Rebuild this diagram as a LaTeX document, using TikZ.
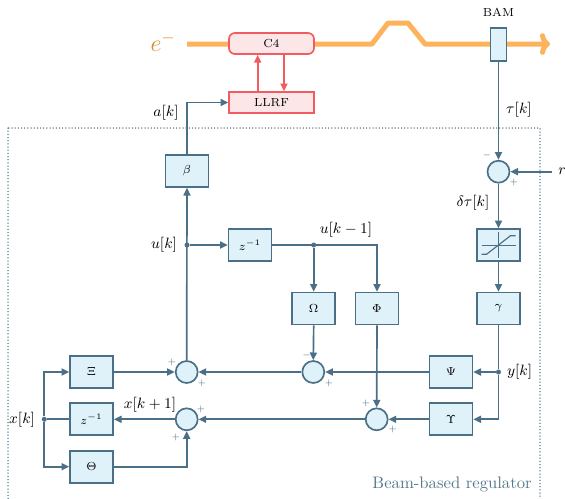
\documentclass[tikz,border=0pt]{standalone}
\usetikzlibrary{arrows.meta,calc}
\definecolor{sigc}{HTML}{4A6F86}
\definecolor{boxfill}{HTML}{DFF1F9}
\definecolor{rfred}{HTML}{F25B60}
\definecolor{rffill}{HTML}{FDE6E8}
\definecolor{beamc}{HTML}{FDB25C}
\definecolor{elec}{HTML}{D9862C}
\definecolor{regtext}{HTML}{55798C}
\begin{document}
\begin{tikzpicture}[x=0.6pt,y=-0.6pt,
  blk/.style={draw=sigc, fill=boxfill, line width=1pt, minimum width=25.8pt,
    minimum height=19.2pt, inner sep=0pt, font=\scriptsize},
  sumnode/.style={circle, draw=sigc, fill=boxfill, line width=1pt,
    minimum size=13.2pt, inner sep=0pt},
  wire/.style={draw=sigc, line width=1pt},
  arr/.style={wire, -{Triangle[length=4.6pt,width=4.2pt]}},
  rfarr/.style={draw=rfred, line width=1pt, -{Triangle[length=4.6pt,width=4.2pt]}},
  rfblk/.style={draw=rfred, fill=rffill, line width=1pt, minimum width=51pt,
    minimum height=12.6pt, inner sep=0pt, font=\scriptsize},
  junction/.style={circle, fill=sigc, inner sep=0pt, minimum size=3pt},
  sgn/.style={font=\tiny, text=sigc, inner sep=0pt},
  lbl/.style={font=\small, inner sep=1pt},
]
\useasboundingbox (0,0) rectangle (565,498);

% regulator frame
\draw[sigc, line width=0.9pt, line cap=round, dash pattern=on 0pt off 1.9pt]
  (8,128) rectangle (540,510);
\node[text=regtext, anchor=east, inner sep=0pt] (regname) at (532,484) {Beam-based regulator};

% electron beam line with the chicane bump
\coordinate (beamin) at (187,44);
\coordinate (beamout) at (550,44);
\draw[beamc, line width=3pt, line join=round,
  -{Computer Modern Rightarrow[length=6pt,width=13pt]}]
  (beamin) -- (372,44) -- (388,23) -- (408,23) -- (425,44) -- (beamout);
\node[text=elec, font=\Large, inner sep=0pt] (elabel) at (163,42) {$e^-$};

% accelerating module and its RF control
\node[rfblk, rounded corners=3.5pt] (C4) at (271.5,43.5) {C4};
\node[rfblk] (LLRF) at (271.5,102.5) {LLRF};
\draw[rfarr] ([xshift=-8.3pt]LLRF.north) -- ([xshift=-8.3pt]C4.south);
\draw[rfarr] ([xshift=7.5pt]C4.south) -- ([xshift=7.5pt]LLRF.north);

% arrival-time monitor
\node[draw=sigc, fill=boxfill, line width=1pt, minimum width=9.6pt,
  minimum height=19.8pt, inner sep=0pt] (BAM) at (498.5,44.5) {};
\node[font=\scriptsize, inner sep=0pt] (BAMname) at (498.5,12) {BAM};

% blocks
\node[blk] (beta) at (187,171) {$\beta$};
\node[blk] (zu) at (250,245) {$z^{-1}$};
\node[blk] (Om) at (313.7,308.5) {$\Omega$};
\node[blk] (Ph) at (377,308.5) {$\Phi$};
\node[blk] (sat) at (498.5,245) {};
\node[blk] (gam) at (498.5,308.5) {$\gamma$};
\node[blk] (Psi) at (451,372) {$\Psi$};
\node[blk] (Ups) at (451,419.3) {$\Upsilon$};
\node[blk] (Xi) at (91.5,372) {$\Xi$};
\node[blk] (zx) at (91.5,419.3) {$z^{-1}$};
\node[blk] (Th) at (91.5,466.7) {$\Theta$};

% saturation characteristic
\begin{scope}[shift={(sat.center)}]
  \draw[sigc, line width=0.6pt] (-17,0) -- (17,0) (0,-13) -- (0,13);
  \draw[sigc, line width=0.7pt] (-17,9.3) -- (-12,9.3) -- (12,-9.3) -- (17,-9.3);
\end{scope}

% summing junctions
\node[sumnode] (stau) at (498.5,171.7) {};
\node[sumnode] (s3) at (313.3,372) {};
\node[sumnode] (s4) at (376.7,419.3) {};
\node[sumnode] (s1) at (186.7,372) {};
\node[sumnode] (s2) at (186.7,419.3) {};

% branch points
\node[junction] (ud) at (187,245) {};
\node[junction] (ud1) at (313.7,245) {};
\node[junction] (yd) at (498.5,372) {};
\node[junction] (xd) at (44.3,419.3) {};
\coordinate (akcorner) at (187,102.5);
\coordinate (rin) at (552,171.7);

% measurement path
\draw[arr] (BAM.south) -- (stau.north);
\draw[arr] (rin) -- (stau.east);
\draw[arr] (stau.south) -- (sat.north);
\draw[arr] (sat.south) -- (gam.north);
\draw[wire] (gam.south) -- (yd);
\draw[arr] (yd) -- (Psi.east);
\draw[arr] (yd) |- (Ups.east);

% state update
\draw[arr] (Psi.west) -- (s3.east);
\draw[arr] (Ups.west) -- (s4.east);
\draw[arr] (Om.south) -- (s3.north);
\draw[arr] (Ph.south) -- (s4.north);
\draw[arr] (s3.west) -- (s1.east);
\draw[arr] (s4.west) -- (s2.east);
\draw[arr] (s2.west) -- (zx.east);
\draw[wire] (zx.west) -- (xd);
\draw[arr] (xd) |- (Xi.west);
\draw[arr] (xd) |- (Th.west);
\draw[arr] (Xi.east) -- (s1.west);
\draw[arr] (Th.east) -| (s2.south);

% control output
\draw[arr] (s1.north) -- (beta.south);
\draw[arr] (ud) -- (zu.west);
\draw[arr] (zu.east) -| (Ph.north);
\draw[arr] (ud1) -- (Om.north);
\draw[arr] (beta.north) -- (akcorner) -- (LLRF.west);

% signal labels
\node[lbl] (lak) at (166,113) {$a[k]$};
\node[lbl] (ltau) at (519,110) {$\tau[k]$};
\node[lbl] (lr) at (562,171.7) {$r$};
\node[lbl] (ldtau) at (473,203) {$\delta\tau[k]$};
\node[lbl, anchor=east] (luk) at (179,245) {$u[k]$};
\node[lbl] (luk1) at (346,230) {$u[k-1]$};
\node[lbl, anchor=west] (lyk) at (505,372) {$y[k]$};
\node[lbl, anchor=east] (lxk) at (37,419.3) {$x[k]$};
\node[lbl] (lxk1) at (150,405) {$x[k+1]$};

% junction signs
\node[sgn] (g1) at (487,155) {$-$};
\node[sgn] (g2) at (514,182) {$+$};
\node[sgn] (g3) at (306.7,355) {$-$};
\node[sgn] (g4) at (329,383) {$+$};
\node[sgn] (g5) at (172,362) {$+$};
\node[sgn] (g6) at (202,383) {$+$};
\node[sgn] (g7) at (201,409) {$+$};
\node[sgn] (g8) at (176,437) {$+$};
\node[sgn] (g9) at (366,403) {$+$};
\node[sgn] (g10) at (392.7,429) {$+$};
\end{tikzpicture}
\end{document}
